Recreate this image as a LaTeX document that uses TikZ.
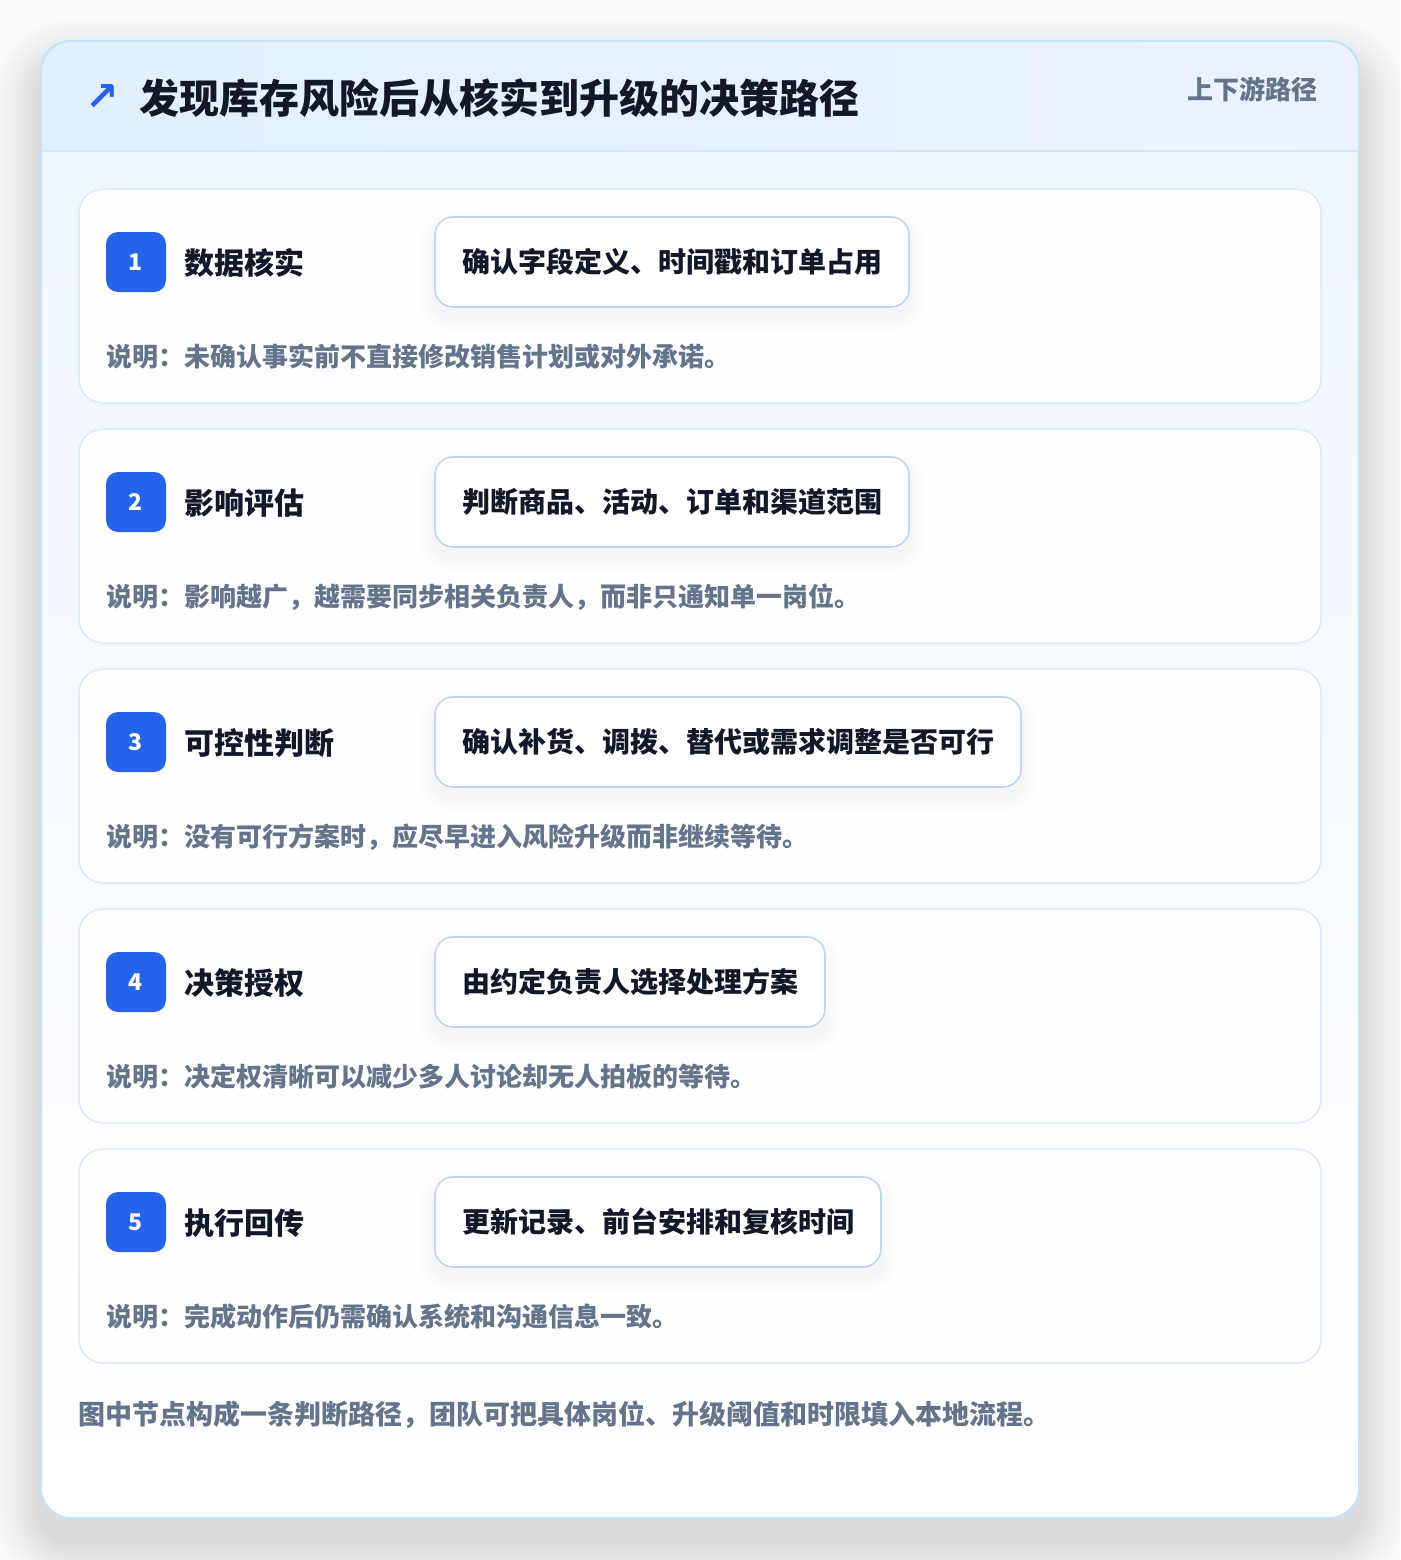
\documentclass[tikz,border=0pt]{standalone}
\usepackage{fontspec}
\setmainfont{Noto Sans CJK SC}
\newfontfamily\symfont{DejaVu Sans}
\definecolor{pagebg}{HTML}{F9FAFB}
\definecolor{cardborder}{HTML}{C3E3F8}
\definecolor{headL}{HTML}{E1EFFD}
\definecolor{headR}{HTML}{EBF2FE}
\definecolor{headline}{HTML}{D4E6FA}
\definecolor{bodytop}{HTML}{EFF6FF}
\definecolor{stepborder}{HTML}{D9EAFB}
\definecolor{badgeblue}{HTML}{2563EB}
\definecolor{actborder}{HTML}{BFD6F3}
\definecolor{textdark}{HTML}{111827}
\definecolor{textgray}{HTML}{64748B}
\tikzset{
  stepcard/.style={draw=stepborder, line width=1.5pt, fill=white, fill opacity=0.9, rounded corners=24pt},
  badge/.style={fill=badgeblue, rounded corners=12pt, minimum width=60pt, minimum height=60pt, inner sep=0pt, text=white, font=\bfseries\fontsize{23}{23}\selectfont},
  steptitle/.style={anchor=west, inner sep=0pt, text=textdark, font=\bfseries\fontsize{30}{30}\selectfont},
  actbox/.style={draw=actborder, line width=1.6pt, fill=white, rounded corners=18pt, minimum height=90pt, inner sep=0pt, text=textdark, font=\bfseries\fontsize{28}{28}\selectfont},
  caption/.style={anchor=west, inner sep=0pt, text=textgray, font=\bfseries\fontsize{26}{26}\selectfont},
}
\begin{document}
\begin{tikzpicture}[x=1pt,y=-1pt]
\useasboundingbox (0,0) rectangle (1400,1560);
\fill[pagebg] (0,0) rectangle (1400,1560);
% outer card shadow
\foreach \i in {3,6,...,45} {
  \fill[black, opacity=0.006, rounded corners={30+\i}] ({41-\i},{41-\i+24}) rectangle ({1359+\i},{1518+\i+24});
}
% main card body
\fill[top color=bodytop, bottom color=white, rounded corners=30pt] (41,41) rectangle (1359,1518);
\begin{scope}
  \clip[rounded corners=30pt] (41,41) rectangle (1359,1518);
  \fill[left color=headL, right color=headR] (41,41) rectangle (1359,151);
\end{scope}
\draw[headline, line width=1.5pt] (42,151) -- (1358,151);
\draw[cardborder, line width=2pt, rounded corners=30pt] (41,41) rectangle (1359,1518);
% header texts
\node[inner sep=0pt, text=badgeblue, font=\symfont\bfseries\fontsize{40}{40}\selectfont] (icon) at (102,98) {↗};
\node[anchor=west, inner sep=0pt, text=textdark, font=\bfseries\fontsize{40}{40}\selectfont] (title) at (139,98) {发现库存风险后从核实到升级的决策路径};
\node[anchor=east, inner sep=0pt, text=textgray, font=\bfseries\fontsize{26}{26}\selectfont] (tag) at (1318,89) {上下游路径};
% steps
\foreach \n/\ttl/\act/\w/\cap in {
  1/数据核实/确认字段定义、时间戳和订单占用/474/未确认事实前不直接修改销售计划或对外承诺。,
  2/影响评估/判断商品、活动、订单和渠道范围/474/影响越广，越需要同步相关负责人，而非只通知单一岗位。,
  3/可控性判断/确认补货、调拨、替代或需求调整是否可行/586/没有可行方案时，应尽早进入风险升级而非继续等待。,
  4/决策授权/由约定负责人选择处理方案/390/决定权清晰可以减少多人讨论却无人拍板的等待。,
  5/执行回传/更新记录、前台安排和复核时间/446/完成动作后仍需确认系统和沟通信息一致。} {
  \pgfmathsetmacro\tp{189+(\n-1)*240}
  \draw[stepcard] (79,\tp) rectangle (1321,{\tp+214});
  \node[badge] (badge\n) at (136,{\tp+73}) {\n};
  \node[steptitle] (title\n) at (184,{\tp+74}) {\ttl};
  \foreach \j in {2,4,...,16} {
    \fill[black, opacity=0.005, rounded corners={18+\j}] ({435-\j},{\tp+28-\j+10}) rectangle ({435+\w+\j},{\tp+118+\j+10});
  }
  \node[actbox, minimum width=\w pt] (act\n) at ({435+\w/2},{\tp+73}) {\act};
  \node[caption] (cap\n) at (106,{\tp+168}) {说明：\cap};
}
\node[anchor=west, inner sep=0pt, text=textgray, font=\bfseries\fontsize{27}{27}\selectfont] (footer) at (78,1415) {图中节点构成一条判断路径，团队可把具体岗位、升级阈值和时限填入本地流程。};
\end{tikzpicture}
\end{document}
